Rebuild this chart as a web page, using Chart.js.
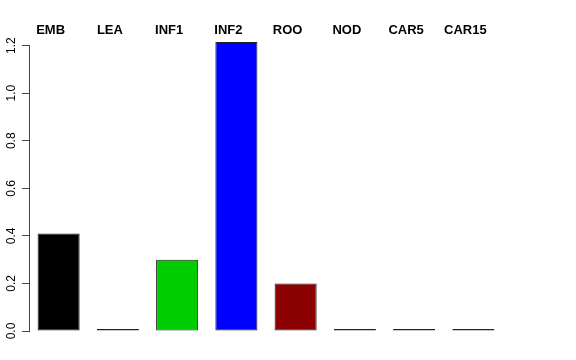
<!DOCTYPE html>
<html>
<head>
<meta charset="utf-8">
<script src="https://cdn.jsdelivr.net/npm/chart.js@4"></script>
<style>
    html, body { margin: 0; padding: 0; background: #fff; }
    #wrap { width: 576px; height: 360px; }
</style>
</head>
<body>
<div id="wrap"><canvas id="barChart" width="576" height="360"></canvas></div>
<script>
// Tissue expression values
const tissues = ['EMB', 'LEA', 'INF1', 'INF2', 'ROO', 'NOD', 'CAR5', 'CAR15'];
const values = [0.41, 0, 0.30, 1.215, 0.20, 0, 0, 0];
const barColors = ['#000000', '#333333', '#00cd00', '#0000ff', '#8b0000', '#333333', '#333333', '#333333'];
const yTicks = [0, 0.2, 0.4, 0.6, 0.8, 1.0, 1.2];

const FONT = '"Liberation Sans", Arial, Helvetica, sans-serif';

// R style rotated y labels, centred on each tick
const rotatedYLabels = {
    id: 'rotatedYLabels',
    afterDraw(chart) {
        const yScale = chart.scales.y;
        const ctx = chart.ctx;
        ctx.save();
        ctx.fillStyle = '#000';
        ctx.font = '12px ' + FONT;
        ctx.textAlign = 'center';
        ctx.textBaseline = 'alphabetic';
        yTicks.forEach(v => {
            ctx.save();
            ctx.translate(yScale.left - 7, yScale.getPixelForValue(v));
            ctx.rotate(-Math.PI / 2);
            ctx.fillText(v.toFixed(1), 0, 0);
            ctx.restore();
        });
        ctx.restore();
    }
};

new Chart(document.getElementById('barChart'), {
    type: 'bar',
    data: {
        labels: tissues,
        datasets: [{
            data: values,
            backgroundColor: barColors,
            borderColor: '#222',
            borderWidth: 1,
            borderSkipped: false,
            minBarLength: 2,
            categoryPercentage: 1,
            barPercentage: 0.71,
            clip: false
        }]
    },
    options: {
        responsive: false,
        animation: false,
        layout: {
            padding: { left: 22, right: 73, top: 24, bottom: 29 }
        },
        plugins: {
            legend: { display: false },
            tooltip: { enabled: false }
        },
        scales: {
            x: {
                position: 'top',
                grid: { display: false },
                border: { display: false },
                ticks: {
                    color: '#000',
                    labelOffset: -8,
                    padding: -1,
                    font: { family: FONT, size: 13, weight: 'bold' }
                }
            },
            y: {
                min: 0,
                max: 1.2,
                afterBuildTicks: axis => {
                    axis.ticks = yTicks.map(v => ({ value: v }));
                },
                grid: {
                    drawOnChartArea: false,
                    tickLength: 7,
                    color: '#444'
                },
                border: { display: true, color: '#444' },
                ticks: { display: false }
            }
        }
    },
    plugins: [rotatedYLabels]
});
</script>
</body>
</html>
